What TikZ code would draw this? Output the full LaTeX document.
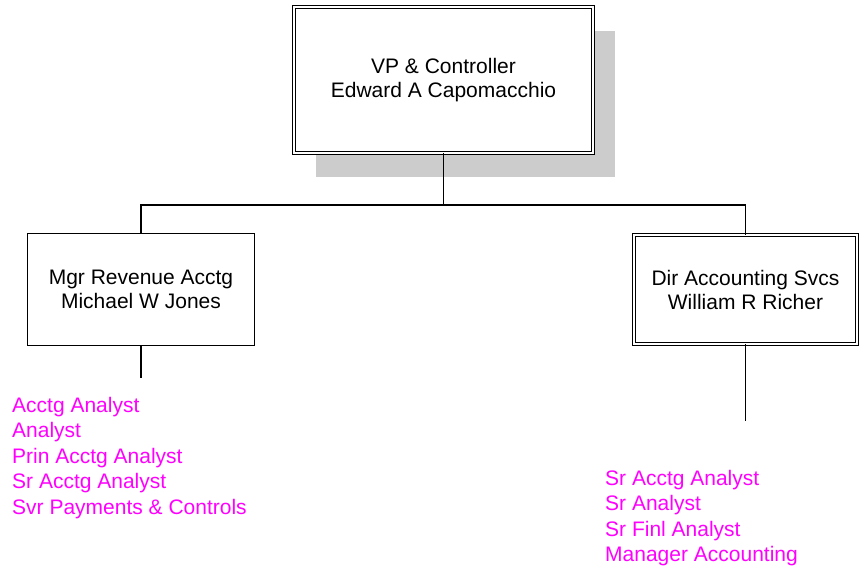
\documentclass[tikz,border=0pt]{standalone}
\usepackage{fontspec}
\setmainfont{Liberation Sans}
\usepackage{xcolor}
\definecolor{orgShadow}{RGB}{204, 204, 204}
\definecolor{orgTitle}{RGB}{255, 0, 255}
\usepackage{tikz}
\usetikzlibrary{
    shadows,
    positioning
}

\begin{document}
\begin{tikzpicture}[
    x=1pt, y=-1pt,
    headNode/.style={
        rectangle, draw=black, line width=1.1pt,
        double=white, double distance=2.2pt,
        fill=white, text=black,
        align=center, font=\fontsize{21}{24}\selectfont,
        inner sep=0pt
    },
    mgrNode/.style={
        rectangle, draw=black, line width=1.3pt,
        fill=white, text=black,
        align=center, font=\fontsize{21}{24}\selectfont,
        inner sep=0pt, minimum width=226.7pt, minimum height=111.7pt
    },
    orgLine/.style={
        line width=1.5pt, draw=black
    },
    titleList/.style={
        anchor=north west, align=left, inner sep=0pt,
        text=orgTitle, font=\fontsize{21}{25.5}\selectfont
    }
]
    \useasboundingbox (0,0) rectangle (867,571);

    % Top: controller
    \node[headNode, minimum width=298.6pt, minimum height=145.6pt,
          drop shadow={shadow xshift=22pt, shadow yshift=-24pt, fill=orgShadow, opacity=1}]
        (vp) at (443.5, 80) {VP \& Controller\\Edward A Capomacchio};

    % Second level
    \node[mgrNode] (rev) at (141, 289.5) {Mgr Revenue Acctg\\Michael W Jones};
    \node[headNode, minimum width=222.6pt, minimum height=108.6pt]
        (acct) at (745.5, 289.5) {Dir Accounting Svcs\\William R Richer};

    % Bus and stubs
    \coordinate (bus) at (443.5, 205);
    \coordinate (revEnd) at (141, 378);
    \coordinate (acctEnd) at (745.5, 421);

    \draw[orgLine] (vp.south) -- (bus);
    \draw[orgLine] (bus) -| (rev.north);
    \draw[orgLine] (bus) -| (acct.north);
    \draw[orgLine] (rev.south) -- (revEnd);
    \draw[orgLine] (acct.south) -- (acctEnd);

    % Titles under each manager
    \node[titleList] (revTitles) at (12, 397) {Acctg Analyst\\Analyst\\Prin Acctg Analyst\\Sr Acctg Analyst\\Svr Payments \& Controls};
    \node[titleList] (acctTitles) at (605, 470) {Sr Acctg Analyst\\Sr Analyst\\Sr Finl Analyst\\Manager Accounting};

\end{tikzpicture}
\end{document}
